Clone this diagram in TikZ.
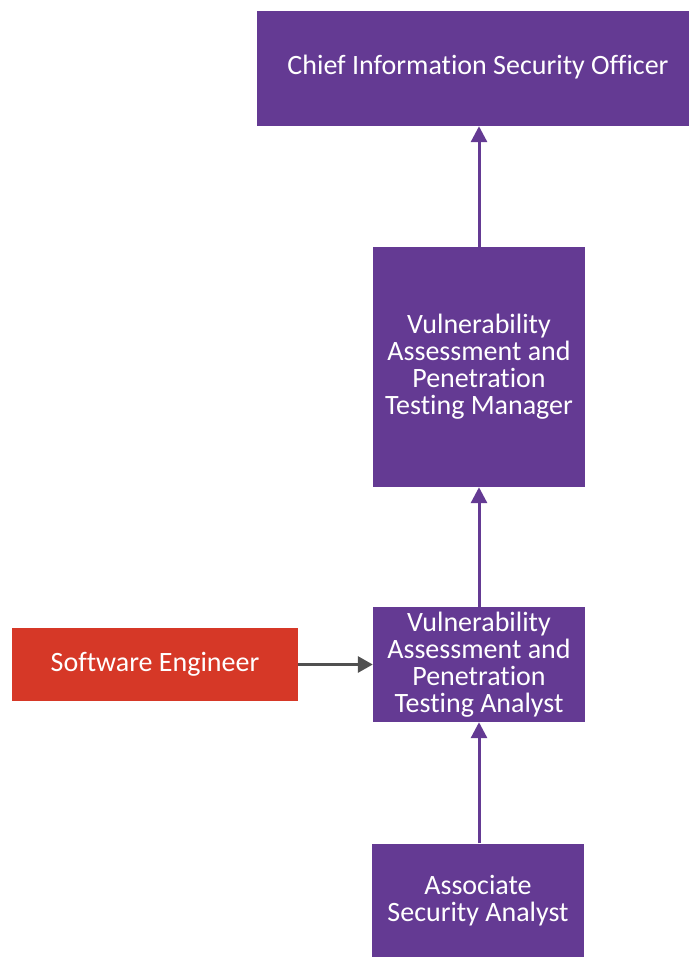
\documentclass[tikz,border=0pt]{standalone}
\usepackage{fontspec}
\setmainfont[RawFeature={-liga}]{Carlito}
\usetikzlibrary{arrows.meta}
\definecolor{rolepurple}{RGB}{100,58,147}
\definecolor{rolered}{RGB}{214,56,39}
\definecolor{linkgray}{RGB}{80,80,80}
\begin{document}
\begin{tikzpicture}[x=1pt,y=-1pt,
  role/.style={fill=rolepurple,text=white,inner sep=0pt,align=center,
    font=\fontsize{28}{27}\selectfont},
  uplink/.style={draw=rolepurple,line width=3pt,-{Triangle[width=16pt,length=16pt]}},
  sidelink/.style={draw=linkgray,line width=3pt,-{Triangle[width=16pt,length=15pt]}}]
\useasboundingbox (0,0) rectangle (689,957);
% box corners in pixel-like units, y growing downward
\node[role,minimum width=432pt,minimum height=115pt] (ciso) at (473,68.5) {};
\node[text=white,inner sep=0pt,font=\fontsize{28}{27}\selectfont] (cisot) at (478,67) {Chief Information Security Officer};
\node[role,minimum width=212pt,minimum height=240pt] (mgr) at (479,367)
  {Vulnerability\\Assessment and\\Penetration\\Testing Manager};
\node[role,minimum width=212pt,minimum height=115pt] (ana) at (479,664.5)
  {Vulnerability\\Assessment and\\Penetration\\Testing Analyst};
\node[role,minimum width=212pt,minimum height=114pt] (asa) at (478,900.5)
  {Associate\\Security Analyst};
\node[role,fill=rolered,minimum width=286pt,minimum height=73pt] (swe) at (155,664.5)
  {Software Engineer};
\draw[uplink] (mgr.north -| 479,0) -- (ciso.south -| 479,0);
\draw[uplink] (ana.north) -- (mgr.south);
\draw[uplink] (asa.north -| 479,0) -- (ana.south -| 479,0);
\draw[sidelink] (swe.east) -- (ana.west);
\end{tikzpicture}
\end{document}
